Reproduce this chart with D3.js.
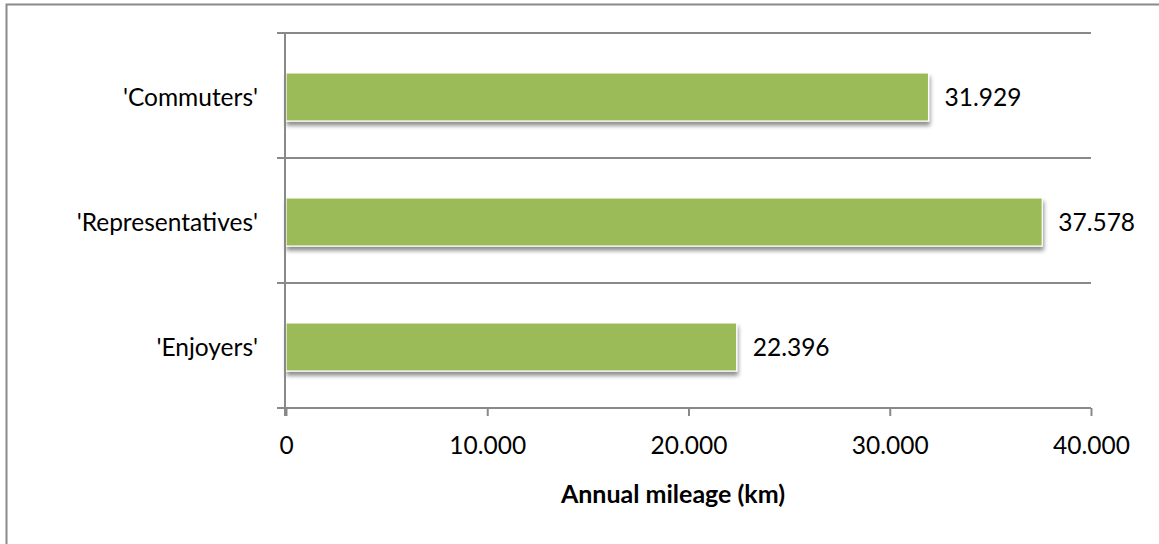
<!DOCTYPE html>
<html>
<head>
<meta charset="utf-8">
<script src="https://cdn.jsdelivr.net/npm/d3@7"></script>
<style>
  html, body { margin: 0; padding: 0; background: #fff; }
  svg { display: block; }
  text { font-family: Lato, "Open Sans", sans-serif; fill: #000; }
</style>
</head>
<body>
<svg id="chart" width="1159" height="544"></svg>
<script>
// Annual mileage per driver segment
const categories = ["'Commuters'", "'Representatives'", "'Enjoyers'"];
const mileage = [31929, 37578, 22396];
const valueLabels = ["31.929", "37.578", "22.396"];
const tickValues = [0, 10000, 20000, 30000, 40000];
const tickLabels = ["0", "10.000", "20.000", "30.000", "40.000"];
const axisTitle = "Annual mileage (km)";

const svg = d3.select("#chart");
const W = 1159, H = 544;
const plot = { left: 286, right: 1091, top: 33, bottom: 408 };
const axisColor = "#898989";
const barColor = "#9BBB59";
const labelSize = 24.5;

// frame around the chart area
svg.append("rect")
  .attr("x", 6.5).attr("y", 4.5)
  .attr("width", W + 10).attr("height", H + 10)
  .attr("fill", "#fff")
  .attr("stroke", "#8a8a8a").attr("stroke-width", 2);

const defs = svg.append("defs");
const shadow = defs.append("filter").attr("id", "barShadow")
  .attr("x", "-5%").attr("y", "-20%").attr("width", "115%").attr("height", "160%");
shadow.append("feGaussianBlur").attr("in", "SourceAlpha").attr("stdDeviation", 2.2).attr("result", "blur");
shadow.append("feOffset").attr("in", "blur").attr("dx", 1).attr("dy", 4).attr("result", "off");
shadow.append("feComponentTransfer").attr("in", "off").attr("result", "soft")
  .append("feFuncA").attr("type", "linear").attr("slope", 0.45);
const merge = shadow.append("feMerge");
merge.append("feMergeNode").attr("in", "soft");
merge.append("feMergeNode").attr("in", "SourceGraphic");

const x = d3.scaleLinear().domain([0, 40000]).range([plot.left, plot.right]);
const y = d3.scaleBand().domain(categories).range([plot.top, plot.bottom])
  .paddingInner(0.615).paddingOuter(0.3075);
const step = y.step();

// category separators (gridlines) with left tick marks
const seps = d3.range(categories.length + 1).map(i => plot.top + i * step);
svg.append("g").selectAll("line.grid")
  .data(seps.slice(0, categories.length))
  .join("line")
  .attr("x1", plot.left - 9).attr("x2", plot.right)
  .attr("y1", d => d).attr("y2", d => d)
  .attr("stroke", axisColor).attr("stroke-width", 2);

// bars
svg.append("g").selectAll("rect")
  .data(categories)
  .join("rect")
  .attr("x", x(0))
  .attr("y", d => y(d) + 1.5)
  .attr("width", (d, i) => x(mileage[i]) - x(0))
  .attr("height", y.bandwidth())
  .attr("fill", barColor)
  .attr("stroke", "#fff").attr("stroke-width", 1.2)
  .attr("filter", "url(#barShadow)");

// value labels
svg.append("g").selectAll("text")
  .data(categories)
  .join("text")
  .attr("x", (d, i) => x(mileage[i]) + 16)
  .attr("y", d => y(d) + 1.5 + y.bandwidth() / 2)
  .attr("dy", "0.35em")
  .attr("font-size", labelSize)
  .text((d, i) => valueLabels[i]);

// category labels
svg.append("g").selectAll("text")
  .data(categories)
  .join("text")
  .attr("x", plot.left - 28)
  .attr("y", d => y(d) + 1.5 + y.bandwidth() / 2)
  .attr("dy", "0.35em")
  .attr("text-anchor", "end")
  .attr("font-size", labelSize)
  .text(d => d);

// vertical axis with tick marks at category boundaries
svg.append("line")
  .attr("x1", plot.left - 1).attr("x2", plot.left - 1)
  .attr("y1", plot.top).attr("y2", plot.bottom + 8)
  .attr("stroke", axisColor).attr("stroke-width", 2);

// horizontal axis
const xAxis = d3.axisBottom(x)
  .tickValues(tickValues)
  .tickSize(8)
  .tickSizeOuter(0)
  .tickPadding(21)
  .tickFormat((d, i) => tickLabels[i]);
const gx = svg.append("g").attr("transform", `translate(0,${plot.bottom})`).call(xAxis);
gx.select(".domain").attr("stroke", axisColor).attr("stroke-width", 2)
  .attr("d", `M${plot.left - 9},0H${plot.right}`);
gx.selectAll(".tick line").attr("stroke", axisColor).attr("stroke-width", 2);
gx.selectAll(".tick text")
  .attr("font-family", "Lato, 'Open Sans', sans-serif")
  .attr("font-size", labelSize).attr("fill", "#000");

// axis title
svg.append("text")
  .attr("x", 673)
  .attr("y", 494)
  .attr("dy", "0.35em")
  .attr("text-anchor", "middle")
  .attr("font-size", 25)
  .attr("font-weight", "bold")
  .text(axisTitle);
</script>
</body>
</html>
